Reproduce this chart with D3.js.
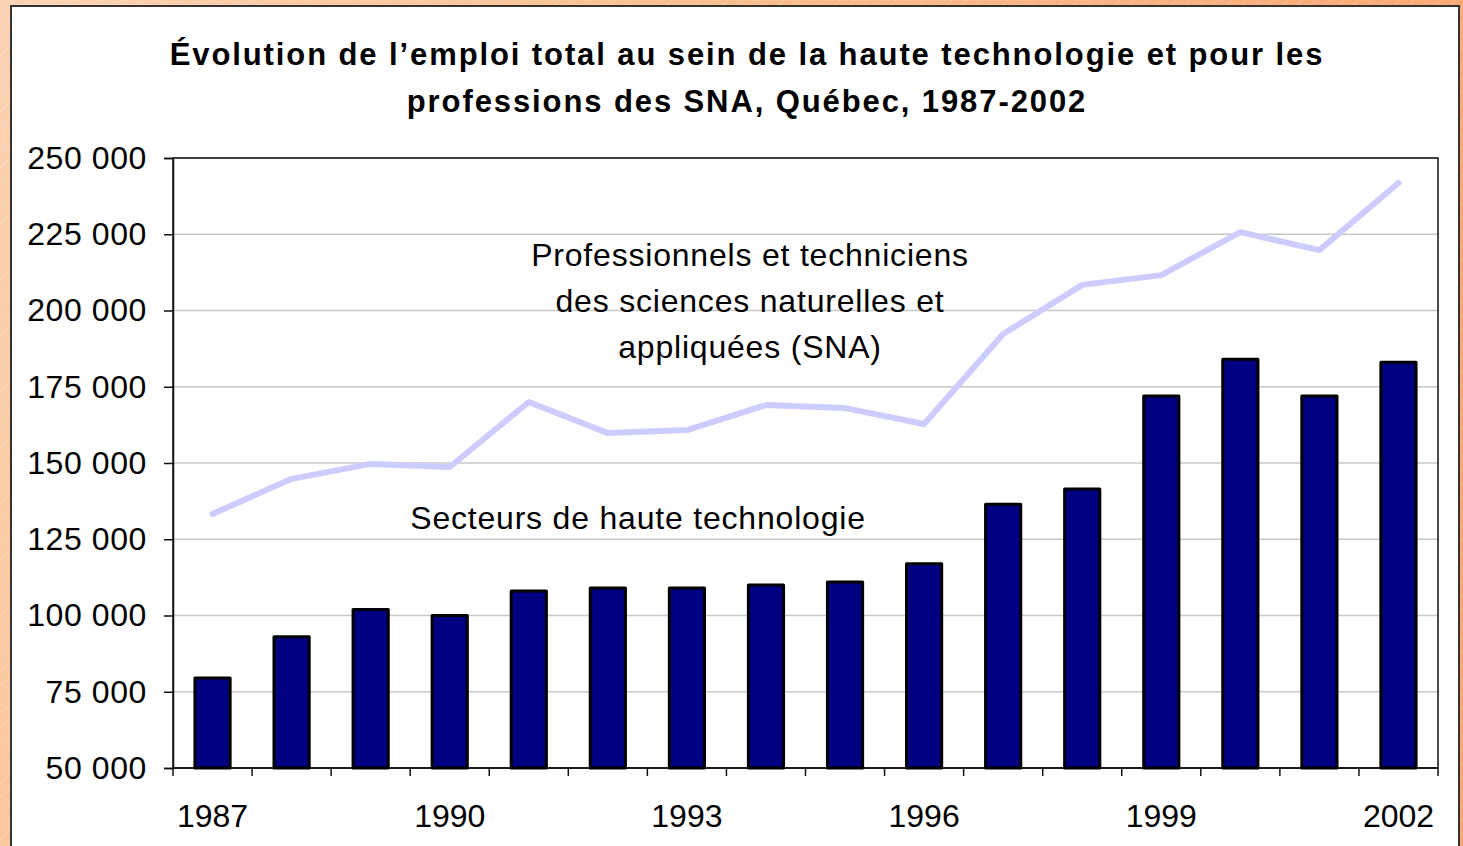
<!DOCTYPE html>
<meta charset="utf-8">
<head>
  <title>Évolution de l'emploi total, Québec, 1987-2002</title>
  <style>
    body { margin: 0; overflow: hidden; }
    text { font-family: "Liberation Sans", Arial, sans-serif; }
  </style>
</head>
<body>
<script src="https://d3js.org/d3.v7.min.js"></script>
<div id="chart"></div>
<script>

// data
const years = ["1987","1988","1989","1990","1991","1992","1993","1994","1995","1996","1997","1998","1999","2000","2001","2002"]
const hautTech = [79500, 93000, 102000, 100000, 108000, 109000, 109000, 110000, 111000, 117000, 136500, 141500, 172000, 184000, 172000, 183000]
const sna = [133300, 144800, 149700, 148700, 170000, 159800, 160800, 169000, 168000, 162800, 192300, 208400, 211600, 225700, 219800, 241800]
const yTicks = [50000, 75000, 100000, 125000, 150000, 175000, 200000, 225000, 250000]
const shownYears = ["1987","1990","1993","1996","1999","2002"]
const titleLines = ["Évolution de l’emploi total au sein de la haute technologie et pour les", "professions des SNA, Québec, 1987-2002"]
const snaLabel = ["Professionnels et techniciens", "des sciences naturelles et", "appliquées (SNA)"]
const techLabel = "Secteurs de haute technologie"

const W = 1463, H = 846
const margin = {top: 158, right: 25, bottom: 78, left: 173}
const width = W - margin.left - margin.right
const height = H - margin.top - margin.bottom

const root = d3.select("#chart").append("svg")
  .attr("width", W)
  .attr("height", H)

// orange background with faint stripes
const defs = root.append("defs")
const grad = defs.append("linearGradient").attr("id", "bg")
  .attr("x1", 0).attr("y1", 0).attr("x2", 1).attr("y2", 0.3)
grad.append("stop").attr("offset", "0%").attr("stop-color", "#fbd3b3")
grad.append("stop").attr("offset", "50%").attr("stop-color", "#fbbd8a")
grad.append("stop").attr("offset", "100%").attr("stop-color", "#fba574")
const pat = defs.append("pattern").attr("id", "stripes")
  .attr("width", 14).attr("height", 14)
  .attr("patternUnits", "userSpaceOnUse")
pat.append("path").attr("d", "M0,14 L14,0")
  .attr("stroke", "#ffffff").attr("stroke-opacity", 0.25).attr("stroke-width", 1)

root.append("rect").attr("width", W).attr("height", H).attr("fill", "url(#bg)")
root.append("rect").attr("width", W).attr("height", H).attr("fill", "url(#stripes)")

// white chart frame
root.append("rect")
  .attr("x", 11).attr("y", 6)
  .attr("width", 1448).attr("height", 860)
  .attr("fill", "white")
  .attr("stroke", "#333")
  .attr("stroke-width", 2)

// title
root.append("text")
  .attr("x", 747).attr("y", 65)
  .attr("text-anchor", "middle")
  .style("font-size", "31px")
  .style("font-weight", "bold")
  .style("letter-spacing", "1.9px")
  .selectAll("tspan")
  .data(titleLines)
  .join("tspan")
    .attr("x", 747)
    .attr("dy", (d, i) => i ? 47 : 0)
    .text(d => d)

const svg = root.append("g")
  .attr("transform", `translate(${margin.left},${margin.top})`)

const x = d3.scaleBand()
  .domain(years)
  .range([0, width])
  .paddingInner(0.555)
  .paddingOuter(0.2775)

const xb = d3.scaleBand().domain(years).range([0, width])

const y = d3.scaleLinear()
  .domain([50000, 250000])
  .range([height, 0])

// gridlines
svg.append("g")
  .selectAll("line")
  .data(yTicks)
  .join("line")
    .attr("x1", 0).attr("x2", width)
    .attr("y1", d => y(d)).attr("y2", d => y(d))
    .attr("stroke", "#c8c8c8")
    .attr("stroke-width", 1.5)

// plot border (top/right)
svg.append("rect")
  .attr("width", width).attr("height", height)
  .attr("fill", "none")
  .attr("stroke", "#111")
  .attr("stroke-width", 1.5)

// y axis
const yAxis = svg.append("g")
  .call(d3.axisLeft(y).tickValues(yTicks).tickSize(9).tickPadding(17)
    .tickFormat(d => d3.format(",")(d).replace(/,/g, " ")))
yAxis.attr("font-family", null).attr("font-size", null)
yAxis.select(".domain").attr("stroke", "#111").attr("stroke-width", 1.5)
yAxis.selectAll(".tick line").attr("stroke", "#111").attr("stroke-width", 1.5)
yAxis.selectAll("text")
  .style("font-size", "32px")
  .style("letter-spacing", "0.6px")
  .attr("fill", "#000")

// x axis: ticks at category boundaries
const xAxis = svg.append("g").attr("transform", `translate(0,${height})`)
xAxis.append("line")
  .attr("x1", 0).attr("x2", width)
  .attr("stroke", "#111").attr("stroke-width", 1.5)
xAxis.selectAll(".xt")
  .data(years.concat(["end"]))
  .join("line")
    .attr("class", "xt")
    .attr("x1", (d, i) => i * xb.step())
    .attr("x2", (d, i) => i * xb.step())
    .attr("y1", 0).attr("y2", 8)
    .attr("stroke", "#111").attr("stroke-width", 1.5)
xAxis.selectAll(".xl")
  .data(shownYears)
  .join("text")
    .attr("class", "xl")
    .attr("x", d => xb(d) + xb.bandwidth() / 2)
    .attr("y", 59)
    .attr("text-anchor", "middle")
    .style("font-size", "32px")
    .text(d => d)

// bars
svg.append("g")
  .selectAll("rect")
  .data(hautTech)
  .join("rect")
    .attr("x", (d, i) => x(years[i]))
    .attr("y", d => y(d))
    .attr("width", x.bandwidth())
    .attr("height", d => height - y(d))
    .attr("fill", "#000080")
    .attr("stroke", "#000")
    .attr("stroke-width", 3)
    .attr("stroke-linejoin", "round")

// SNA line
const line = d3.line()
  .x((d, i) => xb(years[i]) + xb.bandwidth() / 2)
  .y(d => y(d))
svg.append("path")
  .datum(sna)
  .attr("d", line)
  .attr("fill", "none")
  .attr("stroke", "#ccccff")
  .attr("stroke-width", 6)
  .attr("stroke-linecap", "round")
  .attr("stroke-linejoin", "round")

// series labels
root.append("text")
  .attr("x", 750).attr("y", 266)
  .attr("text-anchor", "middle")
  .style("font-size", "32px")
  .style("letter-spacing", "0.8px")
  .selectAll("tspan")
  .data(snaLabel)
  .join("tspan")
    .attr("x", 750)
    .attr("dy", (d, i) => i ? 46 : 0)
    .text(d => d)

root.append("text")
  .attr("x", 638).attr("y", 529)
  .attr("text-anchor", "middle")
  .style("font-size", "32px")
  .style("letter-spacing", "0.8px")
  .text(techLabel)

</script>
</body>
